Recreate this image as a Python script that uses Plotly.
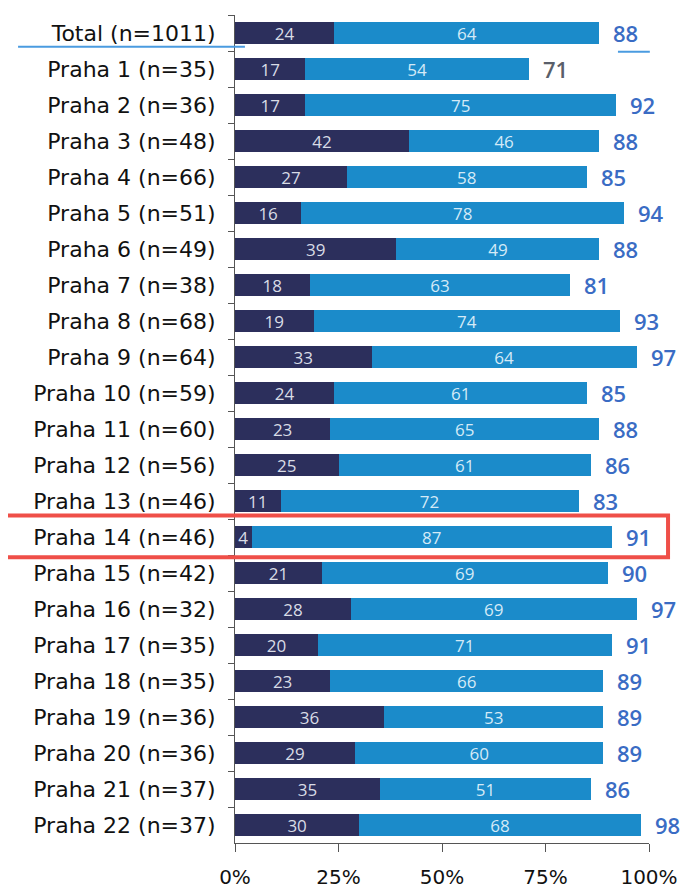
import plotly.graph_objects as go

categories = ["Total (n=1011)", "Praha 1 (n=35)", "Praha 2 (n=36)", "Praha 3 (n=48)", "Praha 4 (n=66)",
              "Praha 5 (n=51)", "Praha 6 (n=49)", "Praha 7 (n=38)", "Praha 8 (n=68)", "Praha 9 (n=64)",
              "Praha 10 (n=59)", "Praha 11 (n=60)", "Praha 12 (n=56)", "Praha 13 (n=46)", "Praha 14 (n=46)",
              "Praha 15 (n=42)", "Praha 16 (n=32)", "Praha 17 (n=35)", "Praha 18 (n=35)", "Praha 19 (n=36)",
              "Praha 20 (n=36)", "Praha 21 (n=37)", "Praha 22 (n=37)"]
dark_values = [24, 17, 17, 42, 27, 16, 39, 18, 19, 33, 24, 23, 25, 11, 4, 21, 28, 20, 23, 36, 29, 35, 30]
light_values = [64, 54, 75, 46, 58, 78, 49, 63, 74, 64, 61, 65, 61, 72, 87, 69, 69, 71, 66, 53, 60, 51, 68]
totals = [88, 71, 92, 88, 85, 94, 88, 81, 93, 97, 85, 88, 86, 83, 91, 90, 97, 91, 89, 89, 89, 86, 98]
tick_vals = [0, 25, 50, 75, 100]
tick_text = ["0%", "25%", "50%", "75%", "100%"]

DARK = "#2c2f5c"
LIGHT = "#1b8bca"
FONT = "Open Sans"
LABEL_FONT = "DejaVu Sans"

fig = go.Figure()
fig.add_trace(go.Bar(
    y=categories, x=dark_values, orientation="h", marker=dict(color=DARK, line=dict(width=0)),
    text=[str(v) for v in dark_values], textposition="inside", insidetextanchor="middle", textangle=0,
    textfont=dict(family=FONT, size=17, color="#d9dce6"), constraintext="none", cliponaxis=False,
    hoverinfo="skip"))
fig.add_trace(go.Bar(
    y=categories, x=light_values, orientation="h", marker=dict(color=LIGHT, line=dict(width=0)),
    text=[str(v) for v in light_values], textposition="inside", insidetextanchor="middle", textangle=0,
    textfont=dict(family=FONT, size=17, color="#d4eaf7"), constraintext="none", cliponaxis=False,
    hoverinfo="skip"))

for cat, t in zip(categories, totals):
    fig.add_annotation(x=t, y=cat, text=str(t), showarrow=False, xanchor="left", xshift=12,
                       font=dict(family=FONT, size=22, weight=600,
                                 color="#5a5f6a" if t == 71 else "#3a6cc4"))

# red highlight box around Praha 14
idx14 = categories.index("Praha 14 (n=46)")
fig.add_shape(type="rect", xref="paper", yref="y", x0=-0.563, x1=1.046,
              y0=idx14 - 0.6, y1=idx14 + 0.56, line=dict(color="#ef4f48", width=4), layer="above")
# blue underline under Total
fig.add_shape(type="line", xref="paper", yref="y", x0=-0.524, x1=0.024, y0=0.38, y1=0.38,
              line=dict(color="#4a9be0", width=2))
fig.add_shape(type="line", xref="paper", yref="y", x0=0.925, x1=1.002, y0=0.52, y1=0.52,
              line=dict(color="#4a9be0", width=2))

fig.update_layout(
    barmode="stack", bargap=0.39, showlegend=False,
    width=680, height=885, margin=dict(l=227, r=39, t=7, b=50, autoexpand=False),
    paper_bgcolor="white", plot_bgcolor="white",
    uniformtext=dict(mode="show", minsize=17),
    xaxis=dict(range=[0, 100], tickvals=tick_vals, ticktext=tick_text, showgrid=False, zeroline=False,
               showline=True, linecolor="#555", linewidth=1, ticks="outside", ticklen=8, tickcolor="#555",
               tickfont=dict(family=LABEL_FONT, size=20, color="#111"), ticklabelstandoff=8,
               automargin=False),
    yaxis=dict(autorange="reversed", showgrid=False, showline=True, linecolor="#555", linewidth=1,
               ticks="outside", ticklen=6, tickcolor="#555", tickson="boundaries",
               tickfont=dict(family=LABEL_FONT, size=22, color="#111"), ticklabelstandoff=14,
               automargin=False),
)

fig.write_html("out.html")
